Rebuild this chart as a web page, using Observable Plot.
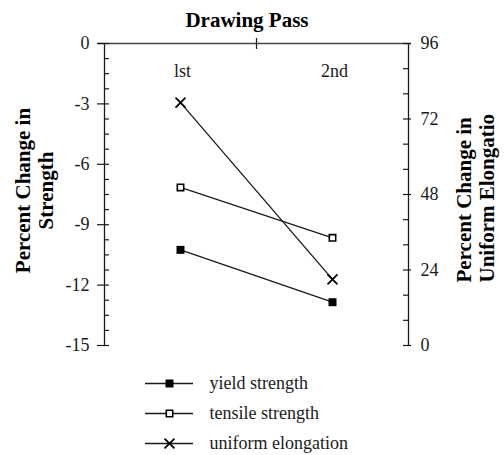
<!DOCTYPE html>
<html>
<head>
<meta charset="utf-8">
<script src="https://cdn.jsdelivr.net/npm/d3@7"></script>
<script src="https://cdn.jsdelivr.net/npm/@observablehq/plot@0.6"></script>
<style>
  html, body { margin: 0; padding: 0; background: #fff; }
  #chart svg { display: block; }
</style>
</head>
<body>
<div id="chart"></div>
<script>
// ---- data ----
const categories = ["lst", "2nd"];
const seriesNames = ["yield strength", "tensile strength", "uniform elongation"];
const yieldStrength = [-10.25, -12.85];      // % change in strength (left axis)
const tensileStrength = [-7.15, -9.65];      // % change in strength (left axis)
const uniformElongation = [77.2, 21.0];      // % change in uniform elongation (right axis)
const leftTicks = [0, -3, -6, -9, -12, -15];
const rightTicks = [96, 72, 48, 24, 0];
const titleText = "Drawing Pass";
const leftTitle = "Percent Change in\nStrength";
const rightTitle = "Percent Change in\nUniform Elongatio";

// ---- dual axis mapping (right 0..96 onto left -15..0) ----
const leftMin = -15, leftMax = 0, rightMin = 0, rightMax = 96;
const toLeft = v => leftMin + (v - rightMin) / (rightMax - rightMin) * (leftMax - leftMin);

const leftMinor = d3.range(leftMin, leftMax + 0.001, 0.75).filter(v => !leftTicks.includes(v));
const rightMinor = d3.range(rightMin, rightMax + 0.001, 8).filter(v => !rightTicks.includes(v)).map(toLeft);

const values = [yieldStrength, tensileStrength, uniformElongation.map(toLeft)];
const rows = seriesNames.flatMap((s, si) =>
  categories.map((c, ci) => ({series: s, pos: ci + 0.5, value: values[si][ci]})));

// ---- styles ----
const symbols = {"yield strength": "square", "tensile strength": "square", "uniform elongation": "times"};
const fills = {"yield strength": "#000", "tensile strength": "#fff", "uniform elongation": "none"};
const radii = {"yield strength": 4.5, "tensile strength": 3.6, "uniform elongation": 4.6};
const strokeW = {"yield strength": 0, "tensile strength": 1.6, "uniform elongation": 1.8};
const serif = "'Liberation Serif', 'Times New Roman', serif";
const ink = "#1a1a1a";

function dotsFor(data, x, y) {
  return seriesNames.map(s => Plot.dot(data.filter(d => (d.series ?? d) === s), {
    x, y, symbol: () => symbols[s], r: radii[s], fill: fills[s],
    stroke: "#000", strokeWidth: strokeW[s]
  }));
}

const W = 504, mL = 104, mR = 96, mT = 43, H = 362, mB = H - 345;
const frameW = W - mL - mR, frameH = H - mT - mB;

const main = Plot.plot({
  width: W, height: H,
  marginLeft: mL, marginRight: mR, marginTop: mT, marginBottom: mB,
  x: {type: "linear", domain: [0, categories.length], axis: null},
  y: {domain: [leftMin, leftMax], axis: null},
  style: {fontFamily: serif, fontSize: "18px", color: ink, background: "#fff"},
  marks: [
    // axis lines
    Plot.ruleX([0], {stroke: ink, strokeWidth: 1.3}),
    Plot.ruleX([categories.length], {stroke: ink, strokeWidth: 1.3}),
    Plot.ruleY([0], {stroke: "#444", strokeWidth: 1.6, insetLeft: -6, insetRight: -3}),
    // left ticks
    Plot.tickY(leftTicks, {y: d => d, stroke: ink, strokeWidth: 1.2, insetLeft: -7, insetRight: frameW - 5}),
    Plot.tickY(leftMinor, {y: d => d, stroke: ink, strokeWidth: 1.2, insetLeft: 0, insetRight: frameW - 5}),
    // right ticks
    Plot.tickY(rightTicks.map(toLeft), {y: d => d, stroke: ink, strokeWidth: 1.2, insetLeft: frameW - 5, insetRight: -3}),
    Plot.tickY(rightMinor, {y: d => d, stroke: ink, strokeWidth: 1.2, insetLeft: frameW - 5, insetRight: 0}),
    // category separator tick on top axis
    Plot.tickX([categories.length / 2], {x: d => d, stroke: ink, strokeWidth: 1.2, insetTop: -5, insetBottom: frameH - 6}),
    // tick labels
    Plot.text(leftTicks, {y: d => d, text: d => String(d), frameAnchor: "left", textAnchor: "end", lineAnchor: "middle", dx: -15, fill: ink}),
    Plot.text(rightTicks, {y: d => toLeft(d), text: d => String(d), frameAnchor: "right", textAnchor: "start", lineAnchor: "middle", dx: 12, fill: ink}),
    Plot.text(categories, {x: (d, i) => i + 0.5, text: d => d, frameAnchor: "top", lineAnchor: "middle", textAnchor: "middle", dx: 2, dy: 27.5, fill: ink}),
    // titles
    Plot.text([titleText], {text: d => d, frameAnchor: "top", lineAnchor: "middle", textAnchor: "middle", dy: -23.5, dx: -9.5, fontWeight: "bold", fontSize: 21, fill: "#000"}),
    Plot.text([leftTitle], {text: d => d, frameAnchor: "left", textAnchor: "middle", lineAnchor: "middle", rotate: -90, dx: -70.5, dy: -4, fontWeight: "bold", fontSize: 21, lineHeight: 1.1, fill: "#000"}),
    Plot.text([rightTitle], {text: d => d, frameAnchor: "right", textAnchor: "start", lineAnchor: "middle", rotate: -90, dx: 67, dy: 88, fontWeight: "bold", fontSize: 21, lineHeight: 1.1, fill: "#000"}),
    // series
    Plot.line(rows, {x: "pos", y: "value", z: "series", stroke: ink, strokeWidth: 1.3}),
    ...dotsFor(rows, "pos", "value")
  ]
});

const LH = 455 - H;
const legend = Plot.plot({
  width: W, height: LH,
  marginLeft: 145, marginRight: W - 193, marginTop: 20, marginBottom: LH - 81,
  x: {domain: [0, 1], axis: null},
  y: {type: "point", domain: seriesNames, padding: 0, axis: null},
  style: {fontFamily: serif, fontSize: "18px", color: ink, background: "#fff", overflow: "visible"},
  marks: [
    Plot.ruleY(seriesNames, {y: d => d, x1: 0, x2: 1, stroke: ink, strokeWidth: 1.3}),
    ...dotsFor(seriesNames, () => 0.5, d => d),
    Plot.text(seriesNames, {y: d => d, x: () => 1, text: d => d, textAnchor: "start", lineAnchor: "middle", dx: 16, fill: ink})
  ]
});

const root = document.getElementById("chart");
root.appendChild(main);
root.appendChild(legend);
</script>
</body>
</html>
